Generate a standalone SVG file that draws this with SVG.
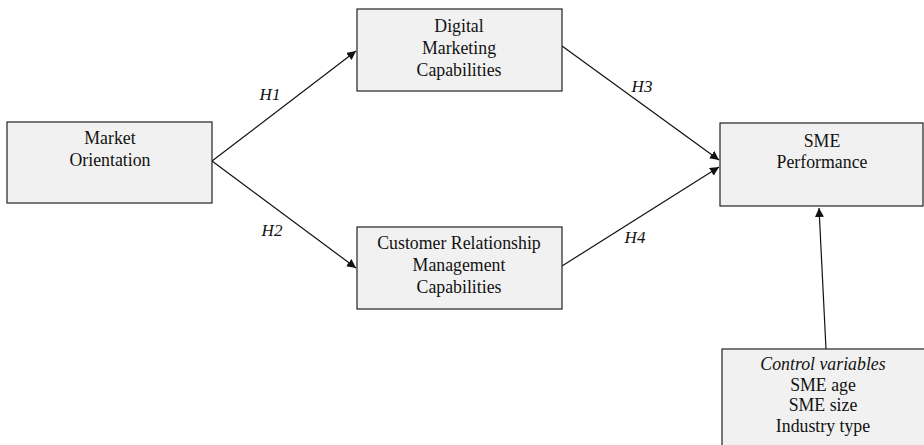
<svg xmlns="http://www.w3.org/2000/svg" width="924" height="445" viewBox="0 0 924 445">
  <style>
    .box { fill: #f1f1f1; stroke: #222; stroke-width: 1.2; }
    .lbl { font-family: "Liberation Serif", "Times New Roman", serif; font-size: 17.8px; fill: #111; text-anchor: middle; }
    .hyp { font-family: "Liberation Serif", "Times New Roman", serif; font-size: 17px; font-style: italic; fill: #111; text-anchor: middle; }
    .it { font-style: italic; }
    .edge { stroke: #111; stroke-width: 1.2; fill: none; marker-end: url(#arrow); }
  </style>
  <defs>
    <marker id="arrow" viewBox="0 0 10 10" refX="10" refY="5" markerWidth="9" markerHeight="9" markerUnits="userSpaceOnUse" orient="auto">
      <path d="M0,0 L10,5 L0,10 z" fill="#111"/>
    </marker>
  </defs>

  <rect width="924" height="445" fill="#ffffff"/>

  <!-- connectors -->
  <g id="connectors">
    <line class="edge" x1="212" y1="161" x2="356" y2="51"/>
    <line class="edge" x1="212" y1="161" x2="356" y2="268"/>
    <line class="edge" x1="562" y1="46" x2="719" y2="160"/>
    <line class="edge" x1="562" y1="266" x2="719" y2="167"/>
    <line class="edge" x1="826" y1="349" x2="819" y2="208"/>
    <text class="hyp" x="270" y="100">H1</text>
    <text class="hyp" x="272" y="236">H2</text>
    <text class="hyp" x="642" y="92">H3</text>
    <text class="hyp" x="635" y="243">H4</text>
  </g>

  <g id="market-orientation">
    <rect class="box" x="7" y="122" width="205" height="81"/>
    <text class="lbl" x="110" y="144">Market</text>
    <text class="lbl" x="110" y="166">Orientation</text>
  </g>

  <g id="digital-marketing">
    <rect class="box" x="357" y="9" width="205" height="82"/>
    <text class="lbl" x="459" y="32">Digital</text>
    <text class="lbl" x="459" y="54">Marketing</text>
    <text class="lbl" x="459" y="76">Capabilities</text>
  </g>

  <g id="crm-capabilities">
    <rect class="box" x="357" y="227" width="205" height="82"/>
    <text class="lbl" x="459" y="249">Customer Relationship</text>
    <text class="lbl" x="459" y="271">Management</text>
    <text class="lbl" x="459" y="293">Capabilities</text>
  </g>

  <g id="sme-performance">
    <rect class="box" x="720" y="123" width="203" height="83"/>
    <text class="lbl" x="822" y="147">SME</text>
    <text class="lbl" x="822" y="168">Performance</text>
  </g>

  <g id="control-variables">
    <rect class="box" x="722" y="349" width="204" height="100"/>
    <text class="lbl it" x="823" y="370">Control variables</text>
    <text class="lbl" x="823" y="391">SME age</text>
    <text class="lbl" x="823" y="411">SME size</text>
    <text class="lbl" x="823" y="432">Industry type</text>
  </g>
</svg>
